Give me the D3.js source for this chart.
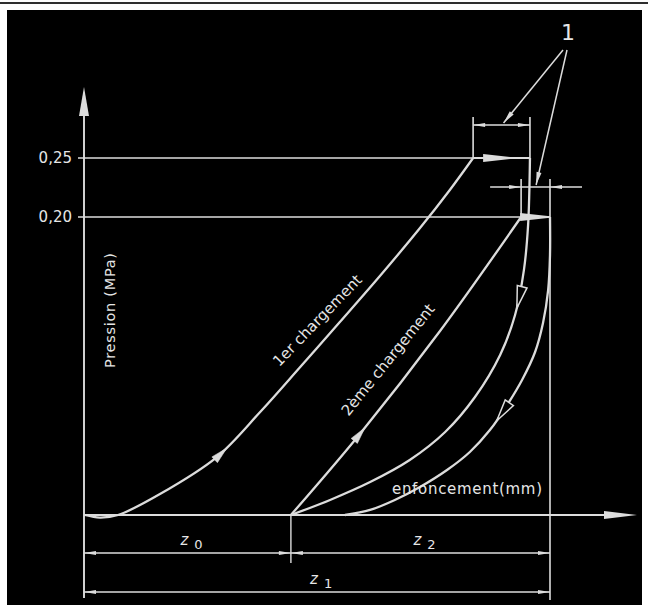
<!DOCTYPE html>
<html>
<head>
<meta charset="utf-8">
<script src="https://cdn.jsdelivr.net/npm/d3@7"></script>
<style>
  html, body { margin: 0; padding: 0; background: #fff; }
  svg { display: block; }
</style>
</head>
<body>
<svg id="chart" width="648" height="605"></svg>
<script>
// Pressure levels marked on the vertical axis (MPa)
const pressureTicks = [0.25, 0.20];
const pressureTickLabels = ["0,25", "0,20"];

// Enfoncement (mm) / pression (MPa) pairs for each branch of the cycle
const firstLoading = [[0.02, 0], [0.34, -0.0017], [0.73, 0], [1.63, 0.0141], [2.85, 0.0389],
  [3.78, 0.0691], [4.64, 0.0993], [5.49, 0.1295], [6.35, 0.1604], [7.21, 0.1926], [7.85, 0.2229], [8.35, 0.25]];
const firstCreep = [[8.35, 0.25], [9.57, 0.25]];
const firstUnloading = [[9.57, 0.25], [9.53, 0.1946], [9.44, 0.1644], [9.25, 0.1342], [8.93, 0.1074],
  [8.39, 0.0792], [7.75, 0.0557], [6.99, 0.0369], [6.14, 0.0221], [5.28, 0.0101], [4.44, 0]];
const secondLoading = [[4.44, 0], [5.92, 0.0544], [7.64, 0.1235], [9.38, 0.2]];
const secondCreep = [[9.38, 0.2], [10, 0.2]];
const secondUnloading = [[10, 0.2], [10, 0.1745], [9.96, 0.151], [9.85, 0.1289], [9.68, 0.1094],
  [9.4, 0.0906], [9.08, 0.0738], [8.71, 0.057], [8.28, 0.0423], [7.79, 0.0302], [7.21, 0.0188],
  [6.67, 0.0101], [6.14, 0.0034], [5.6, 0]];

// Direction marks along the branches (enfoncement where the arrow tip sits)
const loadArrowsAt = [3.07, 6.03];
const unloadArrowsAt = [9.29, 8.86];

// Dimension chains under the axis
const dimensions = [
  { name: "z", index: "0", from: 0, to: 4.44, row: 0 },
  { name: "z", index: "2", from: 4.44, to: 10, row: 0 },
  { name: "z", index: "1", from: 0, to: 10, row: 1 }
];

const ink = "#dcdcdc";
const textInk = "#e6e6e6";
const font = "'DejaVu Sans', 'Liberation Sans', sans-serif";

const svg = d3.select("#chart");

// page frame
svg.append("rect").attr("x", 0).attr("y", 2).attr("width", 648).attr("height", 2).attr("fill", "#2e2e2e");
svg.append("rect").attr("x", 7).attr("y", 10).attr("width", 635).attr("height", 595).attr("fill", "#000");

const x = d3.scaleLinear().domain([0, 10]).range([84, 550]);
const y = d3.scaleLinear().domain([0, 0.20, 0.25]).range([515, 217, 158]);

const line = d3.line().x(d => x(d[0])).y(d => y(d[1])).curve(d3.curveCatmullRom.alpha(0.5));
const straight = d3.line().x(d => x(d[0])).y(d => y(d[1]));

const g = svg.append("g");

function seg(x1, y1, x2, y2, w = 1.6) {
  g.append("line").attr("x1", x1).attr("y1", y1).attr("x2", x2).attr("y2", y2)
    .attr("stroke", ink).attr("stroke-width", w);
}

// small dimension arrowhead, tip at (tx,ty), pointing in direction dir (+1 right, -1 left)
function dimHead(tx, ty, dir, len = 12, hw = 2) {
  g.append("path")
    .attr("d", `M${tx},${ty} L${tx - dir * len},${ty - hw} L${tx - dir * len},${ty + hw} Z`)
    .attr("fill", ink);
}

// axes
const x0 = x(0), yBase = y(0);
seg(x0, yBase, x(0) + 545, yBase, 1.9);
g.append("path").attr("d", `M${x0 + 553},${yBase} L${x0 + 520},${yBase - 4} L${x0 + 520},${yBase + 4} Z`).attr("fill", ink);
seg(x0, yBase + 83, x0, y(0.25) - 45, 1.9);
g.append("path").attr("d", `M${x0},${y(0.25) - 71} L${x0 - 5},${y(0.25) - 42} L${x0 + 5},${y(0.25) - 42} Z`).attr("fill", ink);

// pressure levels
const levelEnds = [x(9.57), x(10)];
pressureTicks.forEach((p, i) => {
  seg(x0 - 6, y(p), levelEnds[i], y(p), 1.7);
  g.append("text").attr("x", x0 - 12).attr("y", y(p) + 5).attr("text-anchor", "end")
    .attr("fill", textInk).attr("font-family", font).attr("font-size", 15).text(pressureTickLabels[i]);
});

// branches of the cycle
const branchNodes = [firstLoading, firstUnloading, secondLoading, secondUnloading].map(data =>
  g.append("path").datum(data).attr("d", line).attr("fill", "none")
    .attr("stroke", ink).attr("stroke-width", 2.3).attr("stroke-linejoin", "round").node());

// creep steps at constant pressure, with wedge heads
[firstCreep, secondCreep].forEach((data, i) => {
  g.append("path").datum(data).attr("d", straight).attr("stroke", ink).attr("stroke-width", 1.8);
  const px0 = x(data[0][0]), py = y(data[0][1]);
  const tip = i === 0 ? px0 + 39 : x(data[1][0]);
  const base = i === 0 ? px0 + 10 : px0 - 1;
  g.append("path").attr("d", `M${base},${py - 4} L${tip},${py - 0.8} L${tip},${py + 0.8} L${base},${py + 4} Z`).attr("fill", ink);
});

// direction arrows placed on the branches
function arrowOn(node, xData, hollow) {
  const total = node.getTotalLength(), tx = x(xData);
  let best = 0, bd = Infinity;
  for (let l = 0; l <= total; l += 0.5) {
    const p = node.getPointAtLength(l);
    const d = Math.abs(p.x - tx);
    if (d < bd) { bd = d; best = l; }
  }
  const tip = node.getPointAtLength(best);
  const a = node.getPointAtLength(Math.max(0, best - 3)), b = node.getPointAtLength(Math.min(total, best + 3));
  const ang = Math.atan2(b.y - a.y, b.x - a.x) * 180 / Math.PI;
  const L = hollow ? 22 : 17, w = hollow ? 5 : 4;
  g.append("path").attr("transform", `translate(${tip.x},${tip.y}) rotate(${ang})`)
    .attr("d", `M0,0 L${-L},${-w} L${-L},${w} Z`)
    .attr("fill", hollow ? "#000" : ink).attr("stroke", ink).attr("stroke-width", hollow ? 1.5 : 0.5);
}
arrowOn(branchNodes[0], loadArrowsAt[0], false);
arrowOn(branchNodes[2], loadArrowsAt[1], false);
arrowOn(branchNodes[1], unloadArrowsAt[0], true);
arrowOn(branchNodes[3], unloadArrowsAt[1], true);

// creep dimension "1" (first load step)
const c1a = x(firstCreep[0][0]), c1b = x(firstCreep[1][0]);
seg(c1a, 117, c1a, y(0.25), 1.6);
seg(c1b, 117, c1b, y(0.25), 1.6);
seg(c1a, 125, c1b, 125, 1.4);
dimHead(c1a, 125, -1); dimHead(c1b, 125, 1);

// creep dimension "1" (second load step)
const c2a = x(secondCreep[0][0]), c2b = x(secondCreep[1][0]);
seg(c2a, 179, c2a, y(0.2), 1.6);
seg(c2b, 179, c2b, yBase + 85, 1.6);
seg(c2a - 31, 187, c2b + 32, 187, 1.4);
dimHead(c2a, 187, 1); dimHead(c2b, 187, -1);

// leader lines to the callout
g.append("text").attr("x", 568).attr("y", 40).attr("text-anchor", "middle")
  .attr("fill", textInk).attr("font-family", font).attr("font-size", 22).text("1");
function leader(x1, y1, x2, y2) {
  seg(x1, y1, x2, y2, 1.5);
  const ang = Math.atan2(y2 - y1, x2 - x1) * 180 / Math.PI;
  g.append("path").attr("transform", `translate(${x2},${y2}) rotate(${ang})`)
    .attr("d", "M0,0 L-13,-2.5 L-13,2.5 Z").attr("fill", ink);
}
leader(563, 50, (c1a + c1b) / 2 + 2, 123);
leader(567, 50, c2a + 15, 185);

// dimension chains
const rowY = [553, 592];
seg(x(4.44), yBase, x(4.44), yBase + 48, 1.4);
dimensions.forEach(d => {
  const a = x(d.from), b = x(d.to), yy = rowY[d.row];
  seg(a, yy, b, yy, 1.5);
  dimHead(a, yy, -1); dimHead(b, yy, 1);
  const t = g.append("text").attr("x", (a + b) / 2 - 7).attr("y", yy - 8)
    .attr("fill", textInk).attr("font-family", font);
  t.append("tspan").attr("font-size", 15).attr("font-style", "italic").text(d.name);
  t.append("tspan").attr("dx", 6).attr("dy", 4).attr("font-size", 13).text(d.index);
});

// axis titles and branch labels
g.append("text").attr("transform", `translate(115,368) rotate(-90)`)
  .attr("fill", textInk).attr("font-family", font).attr("font-size", 14.5)
  .attr("textLength", 115).attr("lengthAdjust", "spacing").text("Pression (MPa)");
g.append("text").attr("x", 392).attr("y", 494)
  .attr("fill", textInk).attr("font-family", font).attr("font-size", 15)
  .attr("textLength", 150).attr("lengthAdjust", "spacing").text("enfoncement(mm)");
g.append("text").attr("transform", `translate(321,324) rotate(-46)`).attr("text-anchor", "middle")
  .attr("fill", textInk).attr("font-family", font).attr("font-size", 15).text("1er chargement");
g.append("text").attr("transform", `translate(392,363) rotate(-51)`).attr("text-anchor", "middle")
  .attr("fill", textInk).attr("font-family", font).attr("font-size", 15).text("2ème chargement");
</script>
</body>
</html>
